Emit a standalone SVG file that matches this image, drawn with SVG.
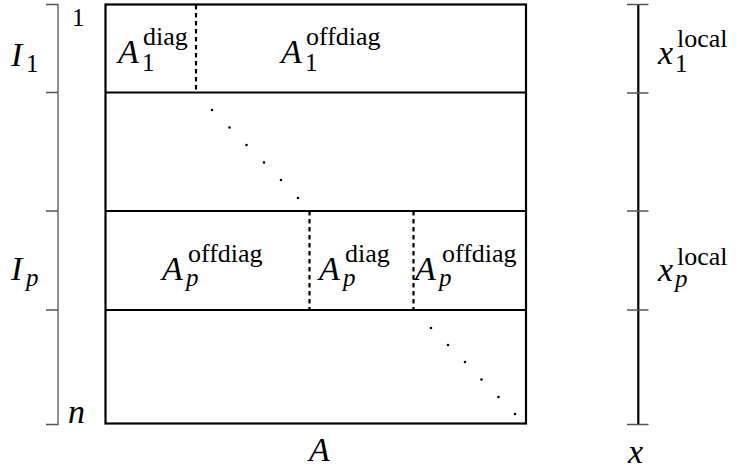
<svg xmlns="http://www.w3.org/2000/svg" width="736" height="470" viewBox="0 0 736 470">
<rect width="736" height="470" fill="#fff"/>
<rect x="105.5" y="4.5" width="420.5" height="419" fill="none" stroke="#000" stroke-width="2.2"/>
<path d="M105.5 92.5H526M105.5 211H526M105.5 310H526" fill="none" stroke="#000" stroke-width="2.2"/>
<path d="M196 5V92M309.5 211V310M413.5 211V310" fill="none" stroke="#000" stroke-width="2.2" stroke-dasharray="4.5 3.5"/>
<path d="M212 110h0M229.5 127.5h0M246.5 145h0M264 162.5h0M281 180h0M298 198h0M431 328h0M448 345h0M465 362h0M481.5 379.5h0M498.5 397h0M515 414h0" fill="none" stroke="#000" stroke-width="2.6" stroke-linecap="round"/>
<path d="M46 4.5H58V424.5H46M46 92.5H58M46 211H58M46 310H58" fill="none" stroke="#555" stroke-width="1.3"/>
<line x1="638.3" y1="4.5" x2="638.3" y2="424.5" stroke="#000" stroke-width="2.2"/>
<path d="M627 4.5H648.5M627 93H648.5M627 211H648.5M627 310H648.5M627 424.5H648.5" fill="none" stroke="#555" stroke-width="1.3"/>
<text x="118" y="62.5" font-size="34" font-family="Liberation Serif" font-style="italic">A</text>
<text x="142" y="71" font-size="25" font-family="Liberation Serif">1</text>
<text x="143" y="45" font-size="26" font-family="Liberation Serif">diag</text>
<text x="281" y="62.5" font-size="34" font-family="Liberation Serif" font-style="italic">A</text>
<text x="305" y="71" font-size="25" font-family="Liberation Serif">1</text>
<text x="306" y="45" font-size="26" font-family="Liberation Serif">offdiag</text>
<text x="162" y="280" font-size="34" font-family="Liberation Serif" font-style="italic">A</text>
<text x="186" y="286" font-size="25" font-family="Liberation Serif" font-style="italic">p</text>
<text x="188" y="262" font-size="26" font-family="Liberation Serif">offdiag</text>
<text x="319" y="280" font-size="34" font-family="Liberation Serif" font-style="italic">A</text>
<text x="343" y="286" font-size="25" font-family="Liberation Serif" font-style="italic">p</text>
<text x="345" y="262" font-size="26" font-family="Liberation Serif">diag</text>
<text x="415" y="280" font-size="34" font-family="Liberation Serif" font-style="italic">A</text>
<text x="439" y="286" font-size="25" font-family="Liberation Serif" font-style="italic">p</text>
<text x="442" y="262" font-size="26" font-family="Liberation Serif">offdiag</text>
<text x="72" y="26" font-size="25" font-family="Liberation Serif">1</text>
<text x="68" y="423" font-size="34" font-family="Liberation Serif" font-style="italic">n</text>
<text x="11" y="66" font-size="34" font-family="Liberation Serif" font-style="italic">I</text>
<text x="26" y="72" font-size="25" font-family="Liberation Serif">1</text>
<text x="11" y="280" font-size="34" font-family="Liberation Serif" font-style="italic">I</text>
<text x="26" y="286" font-size="25" font-family="Liberation Serif" font-style="italic">p</text>
<text x="658" y="64" font-size="34" font-family="Liberation Serif" font-style="italic">x</text>
<text x="675" y="72" font-size="25" font-family="Liberation Serif">1</text>
<text x="677" y="47" font-size="26" font-family="Liberation Serif">local</text>
<text x="658" y="281" font-size="34" font-family="Liberation Serif" font-style="italic">x</text>
<text x="675" y="287" font-size="25" font-family="Liberation Serif" font-style="italic">p</text>
<text x="677" y="265" font-size="26" font-family="Liberation Serif">local</text>
<text x="309" y="461" font-size="34" font-family="Liberation Serif" font-style="italic">A</text>
<text x="628" y="463" font-size="34" font-family="Liberation Serif" font-style="italic">x</text>
</svg>
